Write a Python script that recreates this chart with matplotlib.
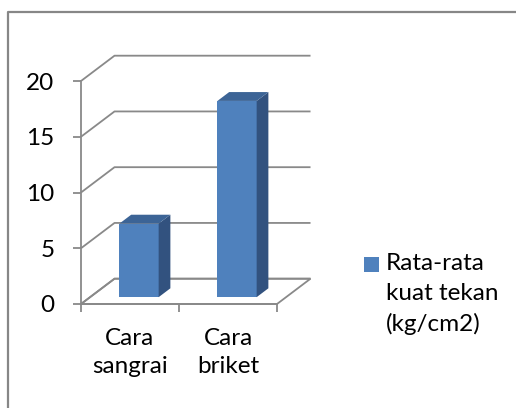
"""
3D-style column chart: rata-rata kuat tekan per cara.
"""
import matplotlib
matplotlib.use('Agg')
import matplotlib.pyplot as plt
from matplotlib.patches import Polygon, Rectangle
from matplotlib.lines import Line2D

categories = ['Cara\nsangrai', 'Cara\nbriket']
values = [6.6, 17.6]
yticks = [0, 5, 10, 15, 20]
series_label = 'Rata-rata\nkuat tekan\n(kg/cm2)'

plt.rcParams['font.family'] = ['Lato', 'DejaVu Sans']

W, H = 516, 408
fig = plt.figure(figsize=(W / 100, H / 100), dpi=100)
ax = fig.add_axes([81 / W, 104 / H, 196 / W, 223 / H])

grid_c = '#898989'
front_c = '#4f81bd'
side_c = '#32527f'
top_c = '#3c6496'
fs = 17.5

# depth offset of the back wall (data units)
ddx, ddy = 0.342, 2.27
ymax = yticks[-1]
ncat = len(categories)

# floor
floor = Polygon([(0, 0), (ncat, 0), (ncat + ddx, ddy), (ddx, ddy)],
                closed=True, fill=False, edgecolor=grid_c, lw=1.3, clip_on=False)
ax.add_patch(floor)

# back wall + side grid lines
for v in yticks:
    ax.plot([0, ddx, ncat + ddx], [v, v + ddy, v + ddy], color=grid_c, lw=1.3,
            clip_on=False, solid_capstyle='butt')

# bars
f, d, bw = 0.27, 0.35, 0.4
for i, val in enumerate(values):
    x0 = i + 0.5 - bw / 2 + f * ddx
    x1 = x0 + bw
    y0 = f * ddy
    y1 = val + f * ddy
    ox, oy = d * ddx, d * ddy
    ax.add_patch(Polygon([(x0, y0), (x1, y0), (x1, y1), (x0, y1)],
                         closed=True, facecolor=front_c, edgecolor='none',
                         clip_on=False, zorder=3))
    ax.add_patch(Polygon([(x1, y0), (x1 + ox, y0 + oy), (x1 + ox, y1 + oy), (x1, y1)],
                         closed=True, facecolor=side_c, edgecolor='none',
                         clip_on=False, zorder=3))
    ax.add_patch(Polygon([(x0, y1), (x1, y1), (x1 + ox, y1 + oy), (x0 + ox, y1 + oy)],
                         closed=True, facecolor=top_c, edgecolor='none',
                         clip_on=False, zorder=3))

ax.set_xlim(0, ncat)
ax.set_ylim(0, ymax)
for s in ['top', 'right']:
    ax.spines[s].set_visible(False)
for s in ['left', 'bottom']:
    ax.spines[s].set_color(grid_c)
    ax.spines[s].set_linewidth(1.3)
ax.set_facecolor('none')

ax.set_yticks(yticks)
ax.set_yticklabels([str(v) for v in yticks])
ax.tick_params(axis='y', length=6, width=1.3, color=grid_c, pad=13,
               labelsize=fs)
ax.set_xticks(range(ncat + 1))
ax.set_xticklabels([''] * (ncat + 1))
ax.set_xticks([i + 0.5 for i in range(ncat)], minor=True)
ax.set_xticklabels(categories, minor=True, linespacing=1.45)
ax.tick_params(axis='x', which='major', length=6, width=1.3, color=grid_c)
ax.tick_params(axis='x', which='minor', length=0, pad=17, labelsize=fs)

# legend
fig.add_artist(Rectangle((364 / W, 1 - 272 / H), 15 / W, 15 / H,
                         transform=fig.transFigure, facecolor=front_c,
                         edgecolor='none'))
fig.text(386 / W, 1 - 253 / H, series_label, fontsize=fs, va='top',
         ha='left', linespacing=1.5)

# chart border (only top and left visible)
fig.add_artist(Line2D([7.5 / W, 7.5 / W, 1], [0, 1 - 12 / H, 1 - 12 / H],
                      transform=fig.transFigure, color='#878787', lw=1.6))

fig.savefig('out.png', dpi=100)
